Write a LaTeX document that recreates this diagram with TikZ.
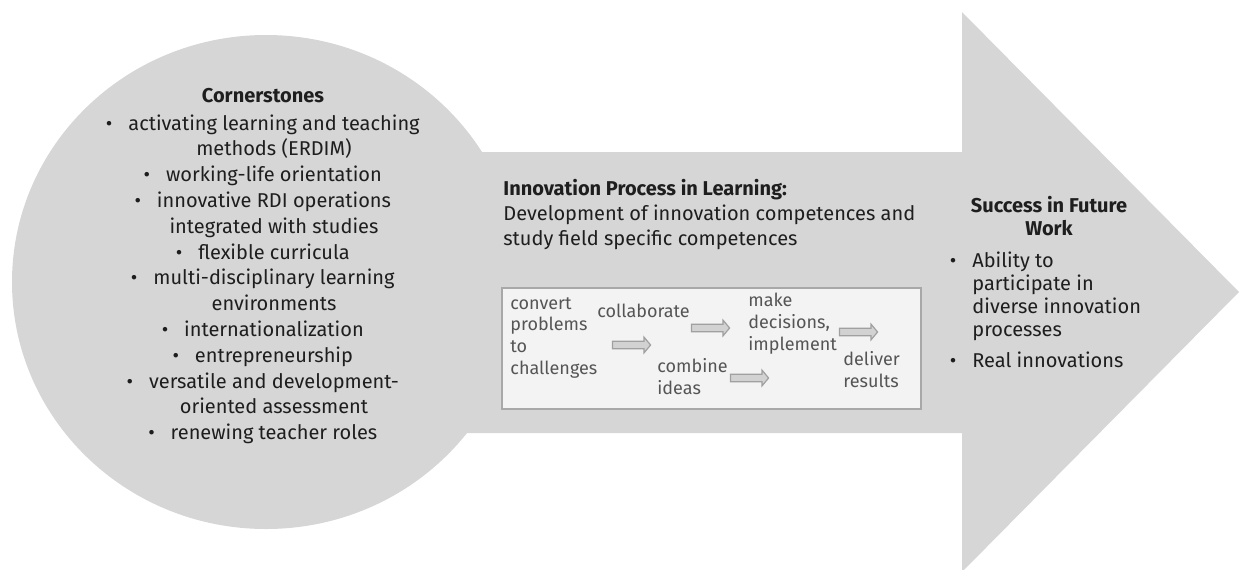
\documentclass[tikz,border=0pt]{standalone}
\usepackage{fontspec}
\setmainfont{Fira Sans}
\usetikzlibrary{shapes.arrows}
\definecolor{shapegray}{HTML}{D6D6D6}
\definecolor{boxfill}{HTML}{F3F3F3}
\definecolor{boxedge}{HTML}{A8A8A8}
\definecolor{maintext}{HTML}{1E1E1E}
\definecolor{boxtext}{HTML}{555555}
\definecolor{arrowfill}{HTML}{D2D2D2}
\definecolor{arrowedge}{HTML}{A0A0A0}
\newcommand{\bul}{\llap{\textbullet\hspace{8pt}}}
\tikzset{
  maintxt/.style={inner sep=0pt, text=maintext, font=\fontsize{10}{12.9}\selectfont},
  headtxt/.style={inner sep=0pt, text=maintext, font=\fontsize{10}{11.5}\selectfont\bfseries},
  boxtxt/.style={inner sep=0pt, text=boxtext, align=left, anchor=north west, font=\fontsize{9}{10.85}\selectfont},
  flowarrow/.style={shape=single arrow, draw=arrowedge, fill=arrowfill, line width=0.6pt,
    minimum height=19pt, inner sep=1.6pt, single arrow head extend=2pt, single arrow tip angle=100},
}
\begin{document}
\begin{tikzpicture}[x=0.5pt,y=-0.5pt]
\useasboundingbox (0,0) rectangle (1239,569);
% big shape: circle + block arrow
\fill[shapegray] (266,282) ellipse [x radius=254, y radius=247];
\fill[shapegray] (400,152) -- (962,152) -- (962,12) -- (1239,292) -- (962,572) -- (962,433) -- (400,433) -- cycle;

% cornerstones
\node[headtxt, anchor=base] (cornerhead) at (263,102) {Cornerstones};
\node[maintxt, align=center, anchor=north] (corner) at (274,114) {\bul activating learning and teaching\\
methods (ERDIM)\\
\bul working-life orientation\\
\bul innovative RDI operations\\
integrated with studies\\
\bul flexible curricula\\
\bul multi-disciplinary learning\\
environments\\
\bul internationalization\\
\bul entrepreneurship\\
\bul versatile and development-\\
oriented assessment\\
\bul renewing teacher roles};

% innovation process
\node[maintxt, font=\fontsize{10}{12.5}\selectfont, align=left, anchor=north west] (proc) at (503,179)
  {\textbf{Innovation Process in Learning:}\\
   Development of innovation competences and\\
   study field specific competences};

\node[draw=boxedge, fill=boxfill, line width=1pt, minimum width=209.5pt, minimum height=60.5pt,
  inner sep=0pt, anchor=north west] (procbox) at (501,287) {};

\node[boxtxt] (convert) at (510,297) {convert\\problems\\to\\challenges};
\node[boxtxt] (collab) at (597,304) {collaborate};
\node[boxtxt] (decide) at (748,293) {make\\decisions,\\implement};
\node[boxtxt] (combine) at (657,358) {combine\\ideas};
\node[boxtxt] (deliver) at (843,351) {deliver\\results};

\node[flowarrow] (a1) at (630,345) {};
\node[flowarrow] (a2) at (709,328) {};
\node[flowarrow] (a3) at (748,378) {};
\node[flowarrow] (a4) at (857,332) {};

% success
\node[headtxt, align=center, anchor=north] (success) at (1049,196) {Success in Future\\Work};
\node[maintxt, font=\fontsize{10}{11.5}\selectfont, align=left, anchor=north west] (ability) at (972,251)
  {\bul Ability to\\participate in\\diverse innovation\\processes};
\node[maintxt, align=left, anchor=north west] (real) at (972,351) {\bul Real innovations};
\end{tikzpicture}
\end{document}
